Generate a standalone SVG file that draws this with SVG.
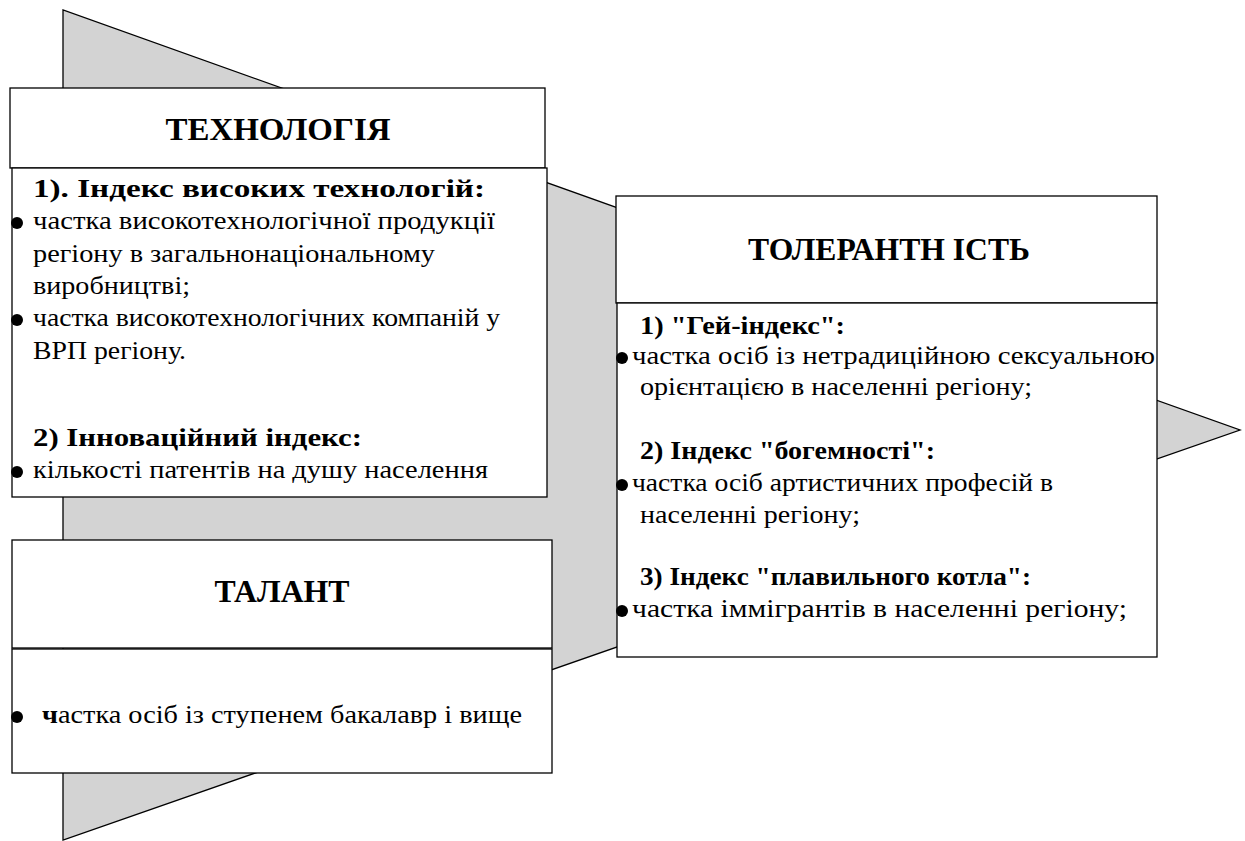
<svg xmlns="http://www.w3.org/2000/svg" width="1245" height="841" viewBox="0 0 1245 841">
<style>
.box{fill:#fff;stroke:#000;stroke-width:1.3}
text{font-family:"Liberation Serif",serif}
.title{font-weight:bold;font-size:31px;text-anchor:middle}
.h{font-weight:bold;font-size:25px}
.t{font-size:26px}
.dot{fill:#000}
</style>
<g id="arrow">
<polygon points="63,10 63,840 1240,430" fill="#d3d3d3" stroke="#000" stroke-width="1.3"/>
</g>
<g id="technology">
<rect class="box" x="10" y="88" width="535" height="80"/>
<rect class="box" x="12" y="168" width="535" height="329"/>
<text class="title" x="278" y="140" textLength="225" lengthAdjust="spacingAndGlyphs">ТЕХНОЛОГІЯ</text>
<text class="h" x="33" y="197" textLength="452" lengthAdjust="spacingAndGlyphs">1). Індекс високих технологій:</text>
<circle class="dot" cx="17" cy="223" r="6"/>
<text class="t" x="33" y="229" textLength="462" lengthAdjust="spacingAndGlyphs">частка високотехнологічної продукції</text>
<text class="t" x="33" y="262" textLength="402" lengthAdjust="spacingAndGlyphs">регіону в загальнонаціональному</text>
<text class="t" x="33" y="294" textLength="157" lengthAdjust="spacingAndGlyphs">виробництві;</text>
<circle class="dot" cx="17" cy="320" r="6"/>
<text class="t" x="33" y="326" textLength="467" lengthAdjust="spacingAndGlyphs">частка високотехнологічних компаній у</text>
<text class="t" x="33" y="359" textLength="153" lengthAdjust="spacingAndGlyphs">ВРП регіону.</text>
<text class="h" x="33" y="446" textLength="329" lengthAdjust="spacingAndGlyphs">2) Інноваційний індекс:</text>
<circle class="dot" cx="17" cy="472" r="6"/>
<text class="t" x="33" y="478" textLength="455" lengthAdjust="spacingAndGlyphs">кількості патентів на душу населення</text>
</g>
<g id="talent">
<rect class="box" x="12" y="540" width="540" height="108"/>
<rect class="box" x="12" y="649" width="540" height="124"/>
<text class="title" x="282" y="602" textLength="135" lengthAdjust="spacingAndGlyphs">ТАЛАНТ</text>
<circle class="dot" cx="17" cy="717" r="6"/>
<text class="t" x="42" y="723" textLength="480" lengthAdjust="spacingAndGlyphs"><tspan font-weight="bold">ч</tspan>астка осіб із ступенем бакалавр і вище</text>
</g>
<g id="tolerance">
<rect class="box" x="616" y="196" width="541" height="107"/>
<rect class="box" x="617" y="303" width="540" height="354"/>
<text class="title" x="889" y="260" textLength="282" lengthAdjust="spacingAndGlyphs">ТОЛЕРАНТН ІСТЬ</text>
<text class="h" x="640" y="334" textLength="205" lengthAdjust="spacingAndGlyphs">1) "Гей-індекс":</text>
<circle class="dot" cx="622" cy="358" r="6"/>
<text class="t" x="632" y="364" textLength="523" lengthAdjust="spacingAndGlyphs">частка осіб із нетрадиційною сексуальною</text>
<text class="t" x="640" y="395" textLength="392" lengthAdjust="spacingAndGlyphs">орієнтацією в населенні регіону;</text>
<text class="h" x="640" y="459" textLength="295" lengthAdjust="spacingAndGlyphs">2) Індекс "богемності":</text>
<circle class="dot" cx="622" cy="485" r="6"/>
<text class="t" x="632" y="491" textLength="421" lengthAdjust="spacingAndGlyphs">частка осіб артистичних професій в</text>
<text class="t" x="640" y="523" textLength="220" lengthAdjust="spacingAndGlyphs">населенні регіону;</text>
<text class="h" x="640" y="585" textLength="391" lengthAdjust="spacingAndGlyphs">3) Індекс "плавильного котла":</text>
<circle class="dot" cx="622" cy="611" r="6"/>
<text class="t" x="632" y="617" textLength="495" lengthAdjust="spacingAndGlyphs">частка іммігрантів в населенні регіону;</text>
</g>
<g id="connectors"></g>
</svg>
